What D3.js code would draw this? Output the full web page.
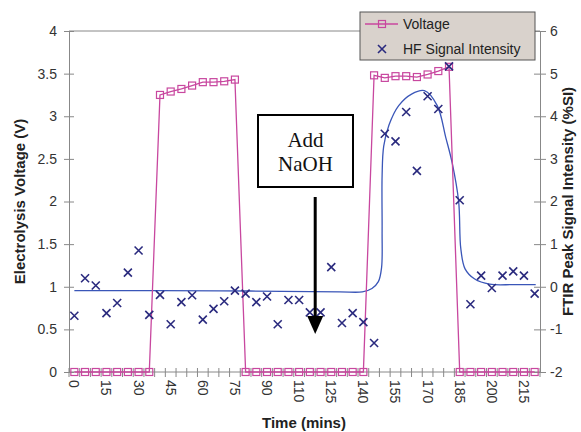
<!DOCTYPE html>
<html>
<head>
<meta charset="utf-8">
<script src="https://cdn.jsdelivr.net/npm/d3@7"></script>
<style>
  body { margin: 0; background: #fff; }
  svg { display: block; font-family: Arial, "Liberation Sans", sans-serif; }
</style>
</head>
<body>
<svg id="chart" width="581" height="432"></svg>
<script>
// categories (minutes) - Excel category axis, 44 samples
const times = [0,5,10,15,20,25,30,35,40,45,50,55,60,65,70,75,80,85,90,100,105,
  110,115,120,125,130,135,140,145,150,155,160,165,170,175,180,185,190,195,200,205,210,215,220];

// electrolysis voltage (V), left axis
const voltage = [0,0,0,0,0,0,0,0,
  3.25,3.29,3.32,3.36,3.40,3.40,3.41,3.43,
  0,0,0,0,0,0,0,0,0,0,0,0,
  3.48,3.45,3.47,3.47,3.46,3.49,3.53,3.58,
  0,0,0,0,0,0,0,0];

// HF signal intensity (%SI), right axis
const hfSignal = [-0.68,0.20,0.03,-0.62,-0.38,0.33,0.85,-0.66,-0.19,-0.88,-0.36,-0.20,
  -0.77,-0.52,-0.34,-0.09,-0.16,-0.36,-0.23,-0.88,-0.31,-0.31,-0.60,-0.60,0.46,-0.85,
  -0.62,-0.83,-1.32,3.59,3.41,4.10,2.72,4.47,4.17,5.17,2.03,-0.41,0.26,-0.03,0.26,0.36,0.26,-0.16];

// smoothed HF trend, (category index, %SI)
const fitIdx = [0, 8, 16.4, 24.8, 26.9, 27.8, 28.4, 28.7, 28.75, 28.75, 28.9, 29.4, 30.3, 31.5, 32.7, 33.9, 34.7, 35.3, 35.9, 36.1, 36.5, 37.4, 38.8, 41, 43.1];
const fitVal = [-0.09, -0.09, -0.10, -0.12, -0.12, -0.04, 0.12, 0.45, 1.3, 2.6, 3.3, 3.8, 4.25, 4.52, 4.6, 4.25, 3.5, 2.9, 2.0, 0.9, 0.42, 0.18, 0.06, 0.05, 0.05];

const leftTicks = [0,0.5,1,1.5,2,2.5,3,3.5,4];
const rightTicks = [-2,-1,0,1,2,3,4,5,6];

const svg = d3.select('#chart');
const plotL = 69, plotR = 540, plotT = 31, plotB = 372;

const x = d3.scaleBand().domain(times).range([plotL, plotR]).padding(0);
const bw = x.bandwidth();
const cx = t => x(t) + bw / 2;
const xi = d3.scaleLinear().domain([0, times.length - 1]).range([cx(times[0]), cx(times[times.length - 1])]);
const yL = d3.scaleLinear().domain([0, 4]).range([plotB, plotT]);
const yR = d3.scaleLinear().domain([-2, 6]).range([plotB, plotT]);

const axisColor = '#888';
const textColor = '#333';
const pink = '#c8479f';
const navy = '#2a2a7e';

// plot frame top
svg.append('line').attr('x1', plotL).attr('x2', plotR).attr('y1', plotT).attr('y2', plotT)
  .attr('stroke', axisColor).attr('stroke-width', 1);

// left axis
const gL = svg.append('g').attr('transform', `translate(${plotL},0)`)
  .call(d3.axisLeft(yL).tickValues(leftTicks).tickSize(0).tickPadding(12)
    .tickFormat(d => d));
gL.select('.domain').attr('stroke', axisColor);
gL.selectAll('.tick line').attr('x1', -5).attr('x2', 5).attr('stroke', axisColor);
gL.selectAll('text').attr('font-size', 14).attr('fill', textColor).attr('font-family', null);

// right axis
const gR = svg.append('g').attr('transform', `translate(${plotR},0)`)
  .call(d3.axisRight(yR).tickValues(rightTicks).tickSize(0).tickPadding(10));
gR.select('.domain').attr('stroke', axisColor);
gR.selectAll('.tick line').attr('x1', -6).attr('x2', 6).attr('stroke', axisColor);
gR.selectAll('text').attr('font-size', 14).attr('fill', textColor).attr('font-family', null)
  .text(d => d < 0 ? '-' + Math.abs(d) : d);

// bottom axis: tick marks at category boundaries, label every third
const gB = svg.append('g');
gB.append('line').attr('x1', plotL).attr('x2', plotR).attr('y1', plotB).attr('y2', plotB)
  .attr('stroke', axisColor);
gB.selectAll('line.tk').data(times.concat(['end'])).join('line').attr('class', 'tk')
  .attr('x1', d => d === 'end' ? plotR : x(d)).attr('x2', d => d === 'end' ? plotR : x(d))
  .attr('y1', plotB - 4).attr('y2', plotB + 5).attr('stroke', axisColor);
gB.selectAll('text').data(times.filter((d, i) => i % 3 === 0)).join('text')
  .attr('transform', d => `translate(${cx(d) - 5},${plotB + 8}) rotate(90)`)
  .attr('font-size', 14).attr('fill', textColor)
  .text(d => d);

// axis titles
svg.append('text').attr('transform', `translate(25,${(plotT + plotB) / 2}) rotate(-90)`)
  .attr('text-anchor', 'middle').attr('font-size', 15).attr('font-weight', 'bold')
  .attr('fill', '#222').text('Electrolysis Voltage (V)');
svg.append('text').attr('transform', `translate(573,${(plotT + plotB) / 2}) rotate(-90)`)
  .attr('text-anchor', 'middle').attr('font-size', 15).attr('font-weight', 'bold')
  .attr('fill', '#222').text('FTIR Peak Signal Intensity (%SI)');
svg.append('text').attr('x', 304).attr('y', 428).attr('text-anchor', 'middle')
  .attr('font-size', 15).attr('font-weight', 'bold').attr('fill', '#222').text('Time (mins)');

// HF trend curve
const fitPts = fitIdx.map((d, i) => [xi(d), yR(fitVal[i])]);
svg.append('path').attr('d', d3.line().curve(d3.curveCatmullRom.alpha(0.5))(fitPts))
  .attr('fill', 'none').attr('stroke', '#3a56b8').attr('stroke-width', 1.3);

// voltage line + squares
svg.append('path')
  .attr('d', d3.line().x((d, i) => cx(times[i])).y(d => yL(d))(voltage))
  .attr('fill', 'none').attr('stroke', pink).attr('stroke-width', 1.3);
svg.selectAll('rect.v').data(voltage).join('rect').attr('class', 'v')
  .attr('x', (d, i) => cx(times[i]) - 3.5).attr('y', d => yL(d) - 3.5)
  .attr('width', 7).attr('height', 7)
  .attr('fill', 'none').attr('stroke', pink).attr('stroke-width', 1.2);

// HF markers
const xMark = (g, px, py, s) => {
  g.append('path').attr('d', `M${px - s},${py - s}L${px + s},${py + s}M${px - s},${py + s}L${px + s},${py - s}`)
    .attr('stroke', navy).attr('stroke-width', 1.6).attr('fill', 'none');
};
const gH = svg.append('g');
hfSignal.forEach((d, i) => xMark(gH, cx(times[i]), yR(d), 4));

// annotation
const ann = svg.append('g');
ann.append('rect').attr('x', 258).attr('y', 115).attr('width', 95).attr('height', 72)
  .attr('fill', '#fff').attr('stroke', '#000').attr('stroke-width', 2);
ann.append('text').attr('x', 305.5).attr('y', 147).attr('text-anchor', 'middle')
  .attr('font-family', '"Liberation Serif", "Times New Roman", serif').attr('font-size', 21)
  .attr('fill', '#111').text('Add');
ann.append('text').attr('x', 305.5).attr('y', 171).attr('text-anchor', 'middle')
  .attr('font-family', '"Liberation Serif", "Times New Roman", serif').attr('font-size', 21)
  .attr('fill', '#111').text('NaOH');
const ax = xi(22.5);
ann.append('line').attr('x1', ax).attr('x2', ax).attr('y1', 197).attr('y2', 318)
  .attr('stroke', '#000').attr('stroke-width', 3);
ann.append('path').attr('d', `M${ax - 8},316L${ax + 8},316L${ax},334Z`).attr('fill', '#000');

// legend
const lg = svg.append('g');
lg.append('rect').attr('x', 360).attr('y', 12).attr('width', 175).attr('height', 48)
  .attr('fill', '#d9d2cc').attr('stroke', '#555').attr('stroke-width', 1);
lg.append('line').attr('x1', 365).attr('x2', 398).attr('y1', 24).attr('y2', 24)
  .attr('stroke', pink).attr('stroke-width', 1.3);
lg.append('rect').attr('x', 378.5).attr('y', 20.5).attr('width', 7).attr('height', 7)
  .attr('fill', 'none').attr('stroke', pink).attr('stroke-width', 1.2);
xMark(lg, 382, 49, 4);
lg.append('text').attr('x', 403).attr('y', 29).attr('font-size', 14).attr('fill', '#222').text('Voltage');
lg.append('text').attr('x', 403).attr('y', 54).attr('font-size', 14).attr('fill', '#222').text('HF Signal Intensity');
</script>
</body>
</html>
